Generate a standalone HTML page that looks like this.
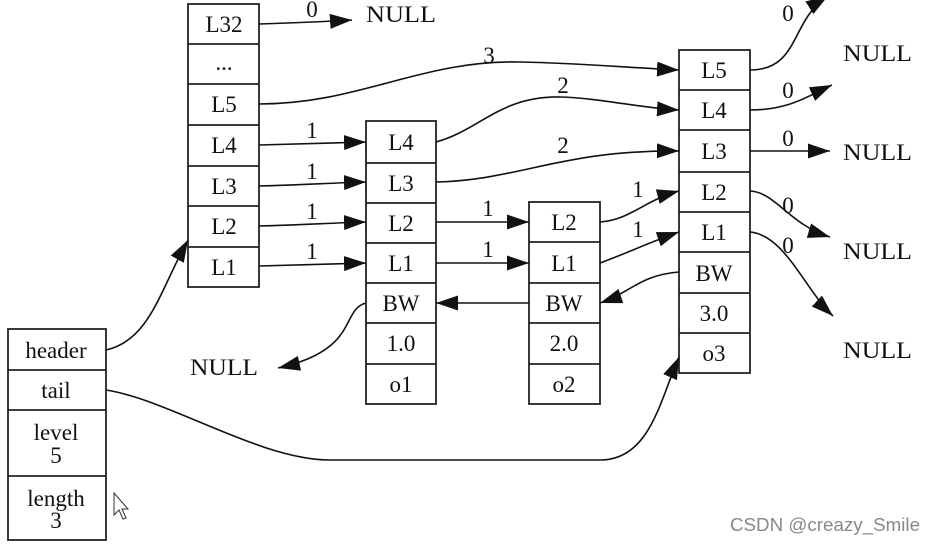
<!DOCTYPE html>
<html><head><meta charset="utf-8"><style>
html,body{margin:0;padding:0;background:#fff;width:933px;height:546px;overflow:hidden}
text{font-family:"Liberation Serif",serif;font-size:23px;fill:#111}
.c{text-anchor:middle}
</style></head><body>
<svg width="933" height="546" viewBox="0 0 933 546" xmlns="http://www.w3.org/2000/svg">
<defs>
<marker id="b" viewBox="0 0 10 10" refX="10" refY="5" markerWidth="22" markerHeight="15" markerUnits="userSpaceOnUse" orient="auto" preserveAspectRatio="none"><path d="M0,0 L10,5 L0,10z" fill="#111"/></marker></defs>
<g fill="none" stroke="#222" stroke-width="1.8">
<rect x="8" y="329" width="98" height="211"/>
<path d="M8 370H106M8 410H106M8 476H106"/>
<rect x="188" y="4" width="71" height="283"/>
<path d="M188 44H259M188 84H259M188 125H259M188 166H259M188 206H259M188 247H259"/>
<rect x="366" y="121" width="70" height="283"/>
<path d="M366 163H436M366 203H436M366 243H436M366 283H436M366 323H436M366 364H436"/>
<rect x="529" y="202" width="71" height="202"/>
<path d="M529 242H600M529 283H600M529 323H600M529 364H600"/>
<rect x="679" y="50" width="71" height="323"/>
<path d="M679 90H750M679 130H750M679 172H750M679 212H750M679 252H750M679 293H750M679 333H750"/>
</g>
<g fill="none" stroke="#111" stroke-width="1.6" marker-end="url(#b)">
<path d="M259 24C290 23 320 22 352 20"/>
<path d="M259 104C360 104 420 60 520 62C580 63 630 68 679 70"/>
<path d="M259 145C300 144 330 143 366 142"/>
<path d="M259 186C300 185 330 183 366 182"/>
<path d="M259 226C300 225 330 223 366 222"/>
<path d="M259 266C300 265 330 264 366 263"/>
<path d="M436 142C480 130 500 96 560 97C600 98 640 108 679 110"/>
<path d="M436 182C520 180 560 150 679 151"/>
<path d="M436 222H529"/>
<path d="M436 263H529"/>
<path d="M600 222C630 220 645 200 679 191"/>
<path d="M600 263C630 252 650 242 679 232"/>
<path d="M679 272C640 275 630 293 600 303"/>
<path d="M529 303H436"/>
<path d="M366 303C340 310 360 350 278 368"/>
<path d="M750 70C800 70 790 20 828 -4"/>
<path d="M750 110C790 110 810 95 832 85"/>
<path d="M750 151H830"/>
<path d="M750 191C775 192 790 225 830 237"/>
<path d="M750 232C785 235 805 290 833 316"/>
<path d="M106 350C150 340 160 290 188 240"/>
<path d="M106 390C170 400 260 460 330 460H600C650 460 660 400 679 357"/>
</g>
<g>
<text class="c" x="56" y="358">header</text>
<text class="c" x="56" y="398">tail</text>
<text class="c" x="56" y="440">level</text>
<text class="c" x="56" y="463">5</text>
<text class="c" x="56" y="506">length</text>
<text class="c" x="56" y="528">3</text>
<text class="c" x="224" y="32">L32</text>
<text class="c" x="224" y="70">...</text>
<text class="c" x="224" y="112">L5</text>
<text class="c" x="224" y="153">L4</text>
<text class="c" x="224" y="194">L3</text>
<text class="c" x="224" y="234">L2</text>
<text class="c" x="224" y="275">L1</text>
<text class="c" x="401" y="150">L4</text>
<text class="c" x="401" y="191">L3</text>
<text class="c" x="401" y="231">L2</text>
<text class="c" x="401" y="271">L1</text>
<text class="c" x="401" y="311">BW</text>
<text class="c" x="401" y="351">1.0</text>
<text class="c" x="401" y="392">o1</text>
<text class="c" x="564" y="230">L2</text>
<text class="c" x="564" y="271">L1</text>
<text class="c" x="564" y="311">BW</text>
<text class="c" x="564" y="351">2.0</text>
<text class="c" x="564" y="392">o2</text>
<text class="c" x="714" y="78">L5</text>
<text class="c" x="714" y="118">L4</text>
<text class="c" x="714" y="159">L3</text>
<text class="c" x="714" y="200">L2</text>
<text class="c" x="714" y="240">L1</text>
<text class="c" x="714" y="281">BW</text>
<text class="c" x="714" y="321">3.0</text>
<text class="c" x="714" y="361">o3</text>
<text class="c" x="312" y="17">0</text>
<text class="c" x="489" y="63">3</text>
<text class="c" x="312" y="138">1</text>
<text class="c" x="312" y="179">1</text>
<text class="c" x="312" y="219">1</text>
<text class="c" x="312" y="259">1</text>
<text class="c" x="563" y="93">2</text>
<text class="c" x="563" y="153">2</text>
<text class="c" x="488" y="216">1</text>
<text class="c" x="488" y="257">1</text>
<text class="c" x="638" y="197">1</text>
<text class="c" x="638" y="237">1</text>
<text class="c" x="788" y="21">0</text>
<text class="c" x="788" y="98">0</text>
<text class="c" x="788" y="146">0</text>
<text class="c" x="788" y="213">0</text>
<text class="c" x="788" y="253">0</text>
</g>
<g>
<text x="366" y="22" textLength="70" lengthAdjust="spacingAndGlyphs">NULL</text>
<text x="843" y="61" textLength="69" lengthAdjust="spacingAndGlyphs">NULL</text>
<text x="843" y="160" textLength="69" lengthAdjust="spacingAndGlyphs">NULL</text>
<text x="843" y="259" textLength="69" lengthAdjust="spacingAndGlyphs">NULL</text>
<text x="843" y="358" textLength="69" lengthAdjust="spacingAndGlyphs">NULL</text>
<text x="190" y="375" textLength="68" lengthAdjust="spacingAndGlyphs">NULL</text>
</g>
<path d="M114 493V515L119 510L123 519L126 518L122 509L128 509Z" fill="#fff" stroke="#333" stroke-width="1"/>
<text x="730" y="531" style="font-family:'Liberation Sans',sans-serif;font-size:18px;fill:#888" textLength="190" lengthAdjust="spacingAndGlyphs">CSDN @creazy_Smile</text>
</svg>
</body></html>
